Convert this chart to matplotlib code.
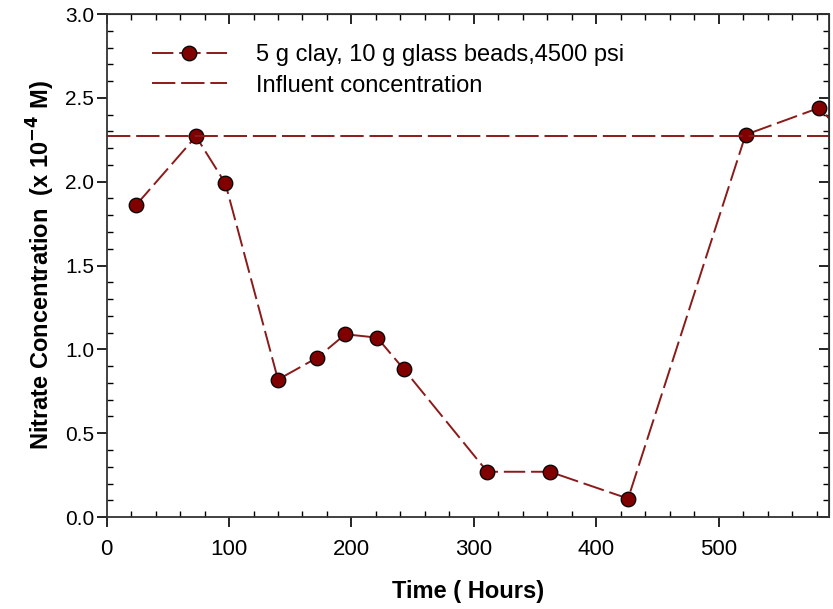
import numpy as np
import matplotlib
matplotlib.use('Agg')
import matplotlib.pyplot as plt
from matplotlib.ticker import MultipleLocator

plt.rcParams['font.family'] = ['Liberation Sans', 'DejaVu Sans']
narrow = ['Liberation Sans Narrow', 'Liberation Sans', 'DejaVu Sans']

# Data
time_hours = [24, 73, 97, 140, 172, 195, 221, 243, 311, 362, 426, 522, 582, 603]
nitrate = [1.86, 2.27, 1.99, 0.82, 0.95, 1.09, 1.07, 0.88, 0.27, 0.27, 0.11, 2.28, 2.44, 2.28]
influent = 2.27

series_label = '5 g clay, 10 g glass beads,4500 psi'
influent_label = 'Influent concentration'

line_color = '#8b1a1a'
marker_color = '#800000'

fig = plt.figure(figsize=(8.33, 6.09), dpi=100)
ax = fig.add_axes([0.128, 0.151, 0.867, 0.826])

ax.plot(time_hours, nitrate, color=line_color, lw=1.4, dashes=(11, 3),
        marker='o', markersize=10.5, markerfacecolor=marker_color,
        markeredgecolor='black', markeredgewidth=0.9, label=series_label)
ax.axhline(influent, color=line_color, lw=1.4, dashes=(12, 3), label=influent_label)

ax.set_xlim(0, 590)
ax.set_ylim(0, 3.0)
ax.xaxis.set_major_locator(MultipleLocator(100))
ax.xaxis.set_minor_locator(MultipleLocator(20))
ax.yaxis.set_major_locator(MultipleLocator(0.5))
ax.yaxis.set_minor_locator(MultipleLocator(0.1))
ax.yaxis.set_major_formatter(plt.FormatStrFormatter('%.1f'))

ax.tick_params(which='major', direction='out', length=7, width=1.2,
               top=False, right=False)
ax.tick_params(which='minor', direction='in', length=4, width=1,
               top=True, right=True)
ax.tick_params(axis='x', which='major', pad=9)
ax.tick_params(axis='y', which='major', pad=2, labelsize=15)
for lab in ax.get_xticklabels():
    lab.set_fontfamily(narrow)
    lab.set_fontsize(16)

# inward major ticks on the top and right edges
top = ax.secondary_xaxis('top')
top.xaxis.set_major_locator(MultipleLocator(100))
top.tick_params(direction='in', length=7, width=1.2, labeltop=False)
right = ax.secondary_yaxis('right')
right.yaxis.set_major_locator(MultipleLocator(0.5))
right.tick_params(direction='in', length=7, width=1.2, labelright=False)

for s in ax.spines.values():
    s.set_linewidth(1.3)
    s.set_color('#333333')

ax.set_xlabel('Time ( Hours)', fontsize=17, fontweight='bold', labelpad=14,
              family=narrow)
ax.set_ylabel('Nitrate Concentration  (x 10$^{\\mathbf{-4}}$ M)', fontsize=17,
              fontweight='bold', labelpad=6)

ax.legend(loc='upper left', bbox_to_anchor=(0.033, 0.982), frameon=False,
          fontsize=17, handlelength=3.2, handletextpad=1.2, labelspacing=0.35)

fig.savefig('out.png', dpi=100)
